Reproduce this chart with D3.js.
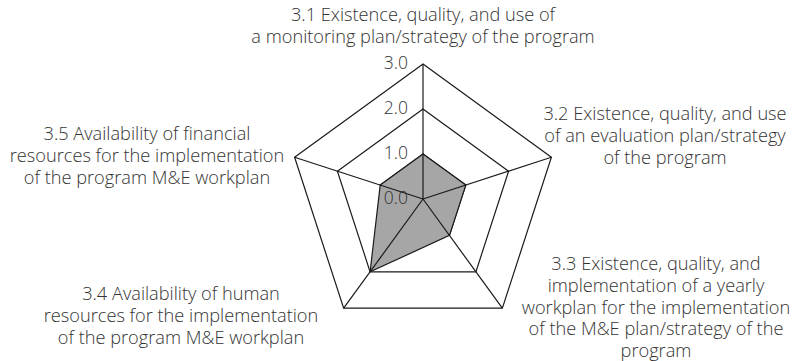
<!DOCTYPE html>
<html lang="en">
<head>
<meta charset="utf-8">
<title>Radar</title>
<script src="https://cdn.jsdelivr.net/npm/d3@7"></script>
<style>
  body { margin: 0; background: #fff; }
  .lbl { font-family: "Open Sans", sans-serif; font-weight: 300; font-size: 18.2px; fill: #333; }
  .tick { font-family: "Open Sans", sans-serif; font-weight: 300; font-size: 17.5px; fill: #333; }
</style>
</head>
<body>
<div id="chart"></div>
<script>
// data
var axes = ["3.1", "3.2", "3.3", "3.4", "3.5"];
var labels = [
  ["3.1 Existence, quality, and use of", "a monitoring plan/strategy of the program"],
  ["3.2 Existence, quality, and use", "of an evaluation plan/strategy", "of the program"],
  ["3.3 Existence, quality, and", "implementation of a yearly", "workplan for the implementation", "of the M&E plan/strategy of the", "program"],
  ["3.4 Availability of human", "resources for the implementation", "of the program M&E workplan"],
  ["3.5 Availability of financial", "resources for the implementation", "of the program M&E workplan"]
];
var scores = [1, 1, 1, 2, 1];
var gridLevels = [1, 2, 3];
var tickLabels = ["0.0", "1.0", "2.0", "3.0"];

var w = 795, h = 361;
var cx = 423, cy = 199;

var svg = d3.select("#chart").append("svg")
  .attr("width", w).attr("height", h);

var r = d3.scaleLinear().domain([0, 3]).range([0, 135]);
var angle = d3.scaleLinear().domain([0, axes.length]).range([-Math.PI / 2, 1.5 * Math.PI]);

function pt(i, v) {
  return [cx + r(v) * Math.cos(angle(i)), cy + r(v) * Math.sin(angle(i))];
}

var line = d3.line();

// grid pentagons
svg.append("g").selectAll("path")
  .data(gridLevels)
  .enter().append("path")
  .attr("d", function(v) { return line(axes.map(function(a, i) { return pt(i, v); })) + "Z"; })
  .attr("fill", "none")
  .attr("stroke", "#1a1a1a")
  .attr("stroke-width", 1.2);

// data polygon
svg.append("path")
  .attr("d", line(scores.map(function(s, i) { return pt(i, s); })) + "Z")
  .attr("fill", "#a6a6a6")
  .attr("stroke", "#1a1a1a")
  .attr("stroke-width", 1.2);

// spokes
svg.append("g").selectAll("line")
  .data(axes)
  .enter().append("line")
  .attr("x1", cx).attr("y1", cy)
  .attr("x2", function(a, i) { return pt(i, 3)[0]; })
  .attr("y2", function(a, i) { return pt(i, 3)[1]; })
  .attr("stroke", "#1a1a1a")
  .attr("stroke-width", 1.2);

// tick labels
svg.append("g").selectAll("text")
  .data(tickLabels)
  .enter().append("text")
  .attr("class", "tick")
  .attr("text-anchor", "end")
  .attr("x", cx - 15)
  .attr("y", function(t) { return cy - r(+t) + 5; })
  .text(function(t) { return t; });

// axis labels (anchor x, first baseline y)
var labelPos = [[423, 21], [665, 120], [656, 270], [181, 300], [147, 140]];
var lh = 21.8;
labels.forEach(function(lines, i) {
  var t = svg.append("text").attr("class", "lbl").attr("text-anchor", "middle");
  lines.forEach(function(s, j) {
    t.append("tspan").attr("x", labelPos[i][0]).attr("y", labelPos[i][1] + j * lh).text(s);
  });
});
</script>
</body>
</html>
